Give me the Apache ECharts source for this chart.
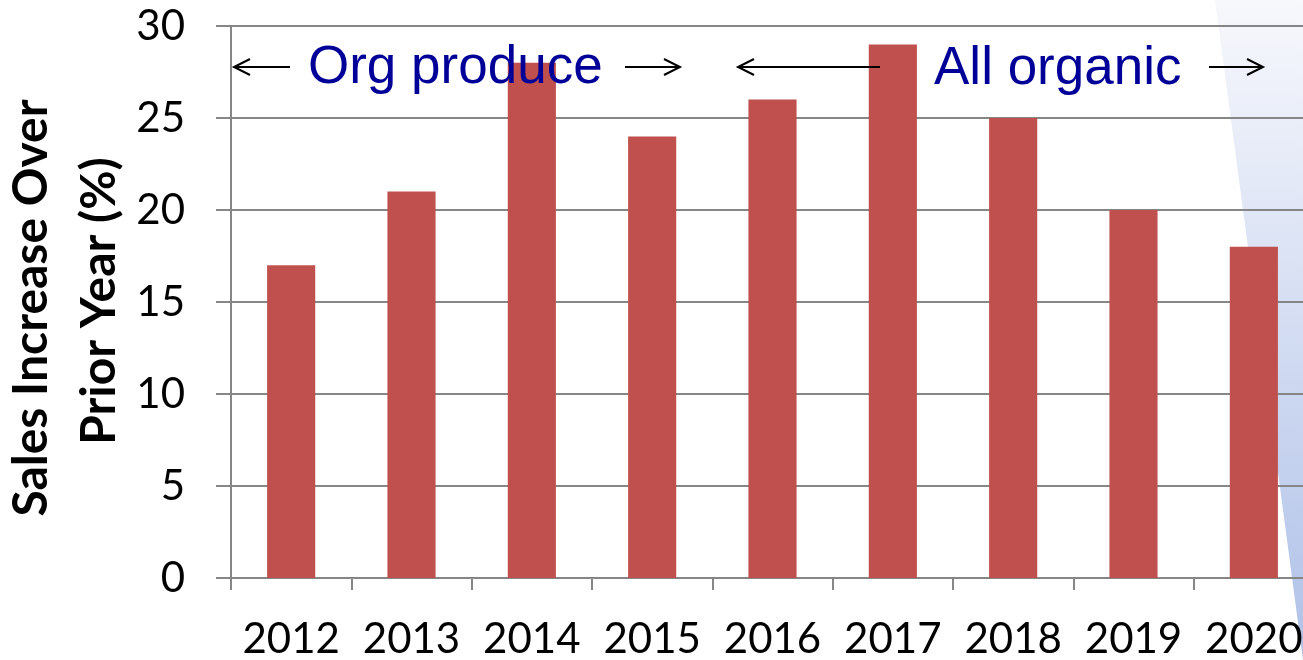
<!DOCTYPE html>
<html>
<head>
<meta charset="utf-8">
<script src="https://cdn.jsdelivr.net/npm/echarts@6/dist/echarts.min.js"></script>
<style>
  html, body { margin: 0; padding: 0; background: #fff; overflow: hidden; }
  /* plot runs past the right edge of the picture, so the canvas is a bit wider than the window */
  #main { width: 1314px; height: 660px; }
</style>
</head>
<body>
<div id="main"></div>
<script>
// data
const years = ['2012', '2013', '2014', '2015', '2016', '2017', '2018', '2019', '2020'];
const salesIncrease = [17, 21, 28, 24, 26, 29, 25, 20, 18];
const yTicks = [0, 5, 10, 15, 20, 25, 30];

const chart = echarts.init(document.getElementById('main'));

// open chevron arrow, head at x2
function arrow(x1, x2, y) {
    const dir = x2 > x1 ? 1 : -1;
    const style = {stroke: '#000', lineWidth: 2, fill: null};
    return [
        {type: 'line', shape: {x1: x1, y1: y, x2: x2, y2: y}, style: style, z: 20},
        {type: 'polyline', shape: {points: [[x2 - dir * 16, y - 8], [x2, y], [x2 - dir * 16, y + 8]]}, style: style, z: 20}
    ];
}

const option = {
    animation: false,
    backgroundColor: '#fff',
    grid: {left: 231, top: 26, right: 0, bottom: 80, containLabel: false},
    xAxis: {
        type: 'category',
        data: years,
        axisLine: {lineStyle: {color: '#868686', width: 2}},
        axisTick: {show: true, length: 12, interval: 0, lineStyle: {color: '#868686', width: 2}},
        axisLabel: {color: '#000', fontFamily: 'Lato', fontSize: 42, margin: 40, interval: 0}
    },
    yAxis: {
        type: 'value',
        min: yTicks[0],
        max: yTicks[yTicks.length - 1],
        interval: 5,
        axisLine: {show: true, lineStyle: {color: '#868686', width: 2}},
        axisTick: {show: true, length: 15, lineStyle: {color: '#868686', width: 2}},
        splitLine: {lineStyle: {color: '#868686', width: 2}},
        axisLabel: {color: '#000', fontFamily: 'Lato', fontSize: 42, margin: 46}
    },
    graphic: [
        {
            type: 'polygon',
            shape: {points: [[1215, 0], [1314, 0], [1314, 660], [1303, 660]]},
            style: {
                fill: new echarts.graphic.LinearGradient(0, 0, 0, 1, [
                    {offset: 0, color: '#F7F8FC'},
                    {offset: 1, color: '#AFC1E8'}
                ])
            },
            z: -10, silent: true
        },
        {
            type: 'text',
            x: 32, y: 308, rotation: Math.PI / 2,
            style: {text: 'Sales Increase Over', fontFamily: 'Lato', fontWeight: 'bold', fontSize: 48,
                fill: '#000', textAlign: 'center', textVerticalAlign: 'middle'},
            z: 20
        },
        {
            type: 'text',
            x: 100, y: 301, rotation: Math.PI / 2,
            style: {text: 'Prior Year (%)', fontFamily: 'Lato', fontWeight: 'bold', fontSize: 48,
                fill: '#000', textAlign: 'center', textVerticalAlign: 'middle'},
            z: 20
        },
        {
            type: 'text', x: 308, y: 95,
            style: {text: 'Org produce', fontFamily: 'Liberation Sans', fontSize: 53, fill: '#000099',
                textAlign: 'left', textVerticalAlign: 'bottom'},
            z: 20
        },
        {
            type: 'text', x: 934, y: 96,
            style: {text: 'All organic', fontFamily: 'Liberation Sans', fontSize: 53, fill: '#000099',
                textAlign: 'left', textVerticalAlign: 'bottom'},
            z: 20
        }
    ].concat(arrow(290, 234, 67), arrow(625, 680, 67), arrow(880, 738, 67), arrow(1209, 1263, 67)),
    series: [{
        type: 'bar',
        data: salesIncrease,
        barWidth: '40%',
        itemStyle: {color: '#C0504D'}
    }]
};

chart.setOption(option);
</script>
</body>
</html>
